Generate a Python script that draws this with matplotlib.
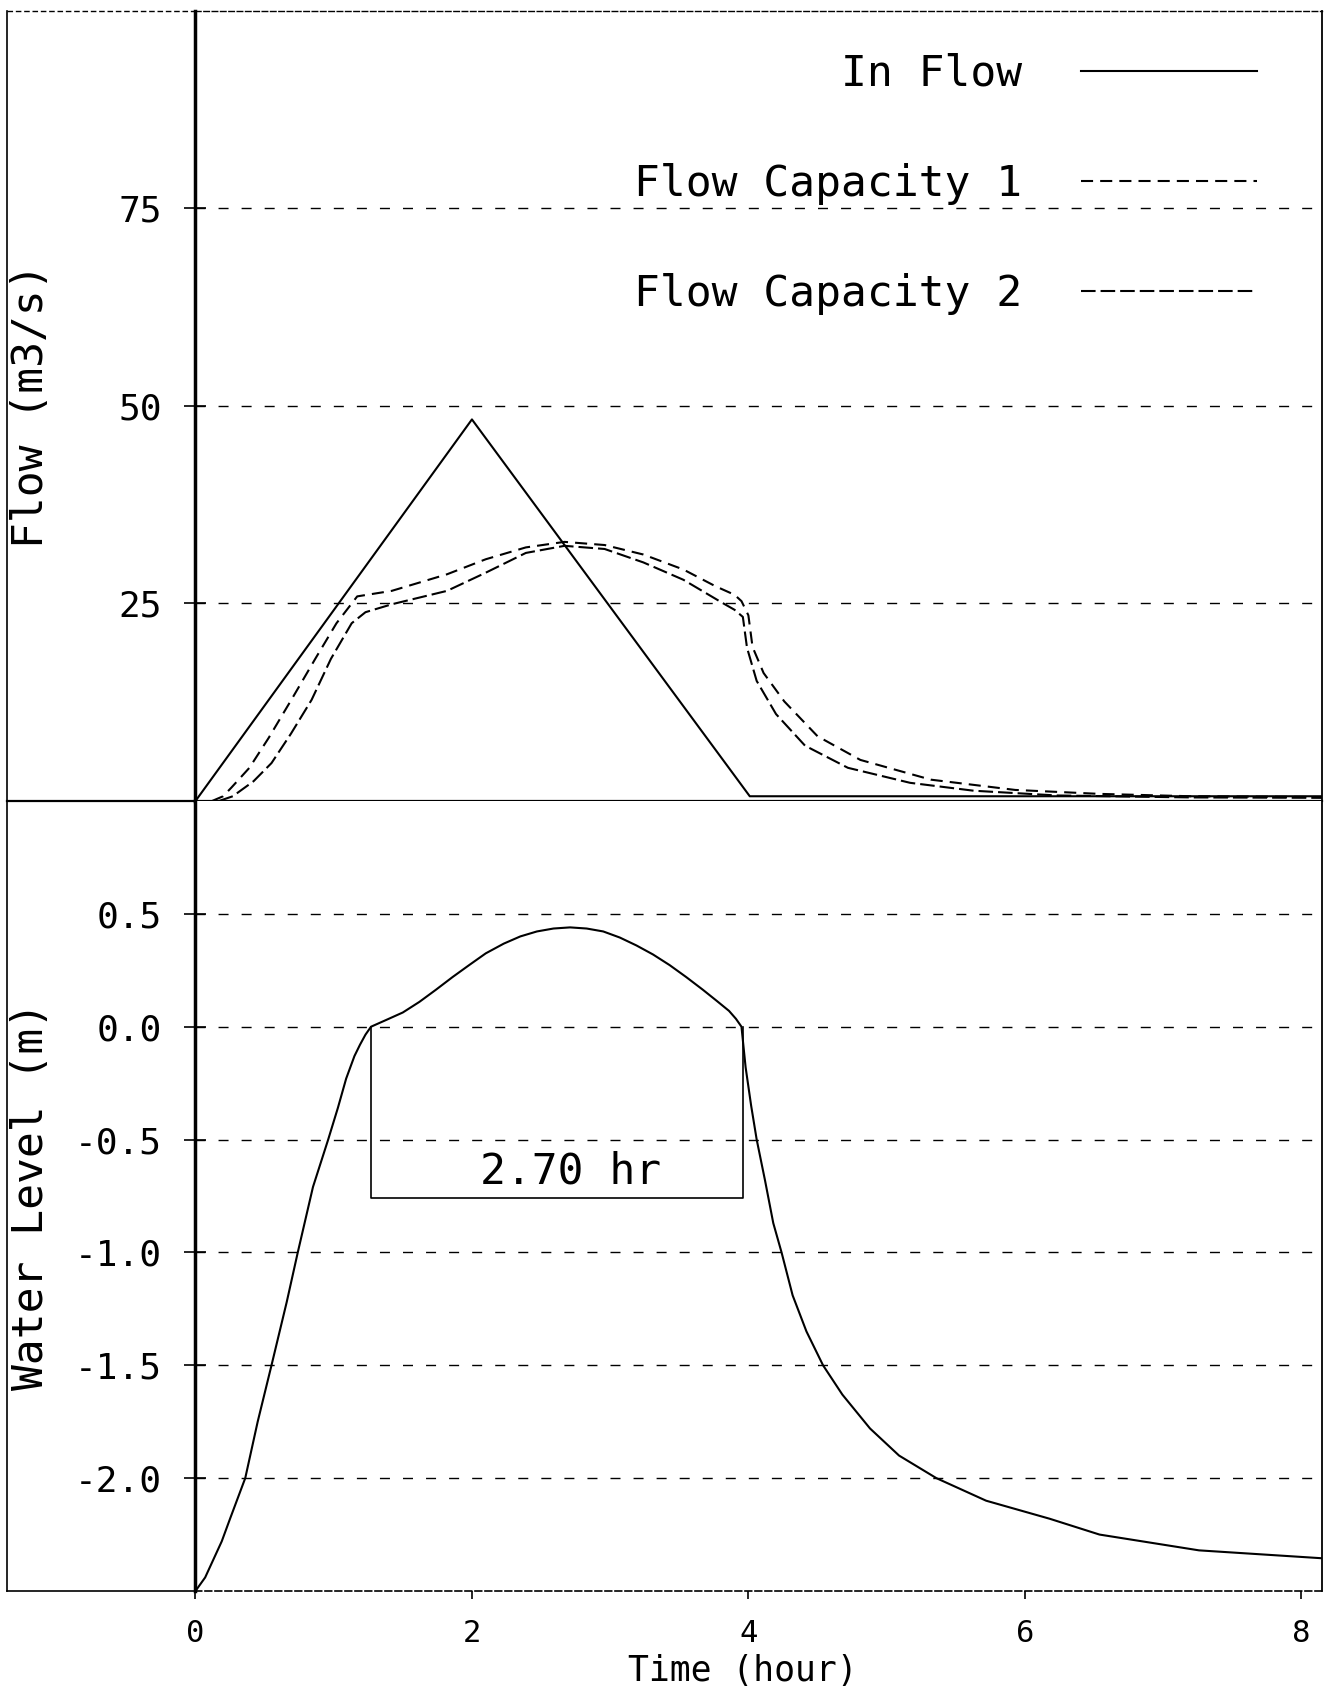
import matplotlib
matplotlib.use("Agg")
import matplotlib.pyplot as plt
from matplotlib.lines import Line2D

plt.rcParams['font.family'] = ['DejaVu Sans Mono', 'DejaVu Sans']
plt.rcParams['axes.unicode_minus'] = False

# ---------------- values ----------------
# inflow hydrograph (m3/s)
t_in = [0.0, 2.0, 4.01, 8.15]
q_in = [0.0, 48.3, 0.6, 0.6]

# outflow, flow capacity 1
t_cap1 = [0.12, 0.20, 0.26, 0.39, 0.53, 0.70, 0.87, 1.02, 1.17, 1.42, 1.82, 2.10,
          2.39, 2.67, 2.96, 3.24, 3.53, 3.76, 3.90, 3.95, 4.00, 4.03, 4.11, 4.26,
          4.50, 4.81, 5.32, 5.93, 6.54, 7.20, 8.15]
q_cap1 = [0.0, 0.6, 1.7, 4.2, 8.0, 13.0, 18.1, 22.5, 25.9, 26.6, 28.7, 30.6,
          32.1, 32.8, 32.4, 31.2, 29.3, 27.2, 26.1, 25.3, 23.5, 19.5, 16.2, 12.6,
          8.2, 5.2, 2.7, 1.4, 0.9, 0.6, 0.5]

# outflow, flow capacity 2
t_cap2 = [0.17, 0.27, 0.42, 0.55, 0.69, 0.84, 0.98, 1.13, 1.23, 1.42, 1.82, 2.10,
          2.39, 2.67, 2.96, 3.24, 3.53, 3.81, 3.90, 3.96, 3.99, 4.06, 4.20, 4.41,
          4.72, 5.17, 5.63, 6.23, 7.20, 8.15]
q_cap2 = [0.0, 0.6, 2.5, 4.8, 8.5, 12.8, 18.0, 22.5, 23.9, 24.9, 26.6, 28.9,
          31.4, 32.3, 31.9, 30.2, 28.0, 25.1, 24.2, 23.3, 19.4, 15.2, 11.0, 7.0,
          4.2, 2.3, 1.3, 0.7, 0.45, 0.4]

# water level (m)
t_wl = [0.0, 0.07, 0.13, 0.19, 0.25, 0.36, 0.45, 0.55, 0.66, 0.74, 0.85, 0.96, 1.03,
        1.09, 1.15, 1.19, 1.23, 1.27, 1.38, 1.50, 1.62, 1.74, 1.86, 1.98, 2.10, 2.23,
        2.35, 2.47, 2.59, 2.71, 2.83, 2.95, 3.07, 3.19, 3.31, 3.43, 3.55, 3.67, 3.77,
        3.86, 3.91, 3.95, 3.98, 4.02, 4.06, 4.12, 4.18, 4.24, 4.32, 4.42, 4.54, 4.68,
        4.88, 5.09, 5.36, 5.72, 6.18, 6.54, 7.26, 8.15]
h_wl = [-2.5, -2.44, -2.36, -2.28, -2.18, -2.0, -1.75, -1.5, -1.22, -1.0, -0.71, -0.5, -0.36,
        -0.23, -0.13, -0.08, -0.035, 0.0, 0.03, 0.063, 0.11, 0.164, 0.22, 0.273, 0.325, 0.368,
        0.40, 0.422, 0.435, 0.44, 0.435, 0.422, 0.395, 0.36, 0.32, 0.273, 0.22, 0.164, 0.115,
        0.07, 0.035, 0.0, -0.18, -0.35, -0.5, -0.68, -0.87, -1.0, -1.19, -1.35, -1.5, -1.63,
        -1.78, -1.90, -2.0, -2.10, -2.18, -2.25, -2.32, -2.355]

# duration above zero level
over_t = [1.27, 3.96]
over_low = -0.757
over_text = '2.70 hr'

flow_ticks = [25, 50, 75]
wl_ticks = [0.5, 0.0, -0.5, -1.0, -1.5, -2.0]
wl_tick_labels = ['0.5', '0.0', '-0.5', '-1.0', '-1.5', '-2.0']
time_ticks = [0, 2, 4, 6, 8]

FS = 26      # y tick labels
FL = 31      # axis labels, legend
grid_ls = (0, (7.2, 9.4))

fig = plt.figure(figsize=(13.28, 16.92), dpi=100)
L, R = 0.1472, 0.9955
mid, top, bot = 0.5266, 0.9935, 0.0597
ax1 = fig.add_axes([L, mid, R - L, top - mid])
ax2 = fig.add_axes([L, bot, R - L, mid - bot], sharex=ax1)

#------------ flow panel -----------------
ax1.plot(t_in, q_in, color='k', lw=1.5, label='In Flow')
ax1.plot(t_cap1, q_cap1, color='k', lw=1.5, ls=(0, (5.8, 3.4)), label='Flow Capacity 1')
ax1.plot(t_cap2, q_cap2, color='k', lw=1.5, ls=(0, (7, 2.4)), label='Flow Capacity 2')
ax1.set_xlim(0, 8.15)
ax1.set_ylim(0, 100)
ax1.set_yticks(flow_ticks)
ax1.tick_params(axis='x', length=0, labelbottom=False)
ax1.set_ylabel('Flow (m3/s)', fontsize=FL, va='center')
ax1.yaxis.set_label_coords(-0.146, 0.5)
ax1.legend(loc='upper right', bbox_to_anchor=(0.942, 0.947), frameon=False,
           markerfirst=False, handlelength=4.07, handletextpad=1.37,
           labelspacing=1.58, borderpad=0, borderaxespad=0, fontsize=FL)

#------------ water level panel -----------------
ax2.plot(t_wl, h_wl, color='k', lw=1.5)
ax2.plot([over_t[0], over_t[0], over_t[1], over_t[1]],
         [0.0, over_low, over_low, 0.0], color='k', lw=1.2)
ax2.text(sum(over_t) / 2 + 0.1, -0.695, over_text, ha='center', va='baseline', fontsize=FL)
ax2.set_ylim(-2.5, 1.0)
ax2.set_yticks(wl_ticks, labels=wl_tick_labels)
ax2.set_xticks(time_ticks)
ax2.set_ylabel('Water Level (m)', fontsize=FL, va='center')
ax2.yaxis.set_label_coords(-0.146, 0.5)
ax2.set_xlabel('Time (hour)', fontsize=25, va='center')
ax2.xaxis.set_label_coords(0.486, -0.101)
ax2.tick_params(axis='x', direction='out', length=6, width=1.2, pad=14, labelsize=22)

#----------- common styling
for a in (ax1, ax2):
    a.grid(axis='y', ls=grid_ls, lw=1.0, color='k')
    a.tick_params(axis='y', direction='inout', length=16, width=1.2, pad=16, labelsize=FS)
    a.spines['left'].set_linewidth(2.5)
    a.spines['right'].set_linewidth(1.3)
ax1.spines['top'].set_linestyle((0, (4, 2)))
ax1.spines['top'].set_linewidth(1.0)
ax1.spines['bottom'].set_linewidth(1.6)
ax2.spines['top'].set_visible(False)
ax2.spines['bottom'].set_linestyle((0, (4, 2)))
ax2.spines['bottom'].set_linewidth(1.2)

# outer plotter frame round the label area
xf = 7 / 1328
fig.add_artist(Line2D([xf, xf], [bot, top], transform=fig.transFigure, color='k', lw=1.2))
fig.add_artist(Line2D([xf, L], [top, top], transform=fig.transFigure, color='k', lw=1.0, ls=(0, (4, 2))))
fig.add_artist(Line2D([xf, L], [mid, mid], transform=fig.transFigure, color='k', lw=1.6))
fig.add_artist(Line2D([xf, L], [bot, bot], transform=fig.transFigure, color='k', lw=1.2))

fig.savefig('out.png', dpi=100)
